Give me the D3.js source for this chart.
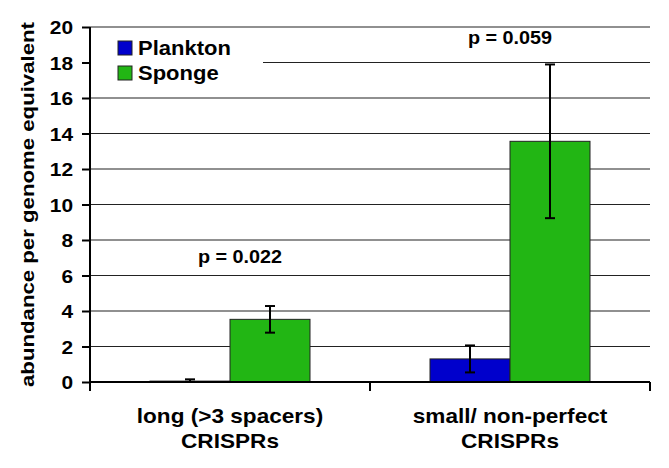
<!DOCTYPE html>
<html lang="en">
<head>
    <meta charset="utf-8">
    <title>CRISPR abundance</title>
    <script src="https://d3js.org/d3.v7.min.js"></script>
    <style>
        body { margin: 0; background: #fff; }
        text { font-family: Arial, "Liberation Sans", sans-serif; font-weight: bold; fill: #000; }
    </style>
</head>
<body>
    <svg id="chart" width="669" height="468"></svg>
    <script>
        // Data
        const categories = ["long (>3 spacers)|CRISPRs", "small/ non-perfect|CRISPRs"];
        const seriesNames = ["Plankton", "Sponge"];
        const plankton = [0.05, 1.30];
        const planktonErr = [0.1, 0.76];
        const sponge = [3.53, 13.56];
        const spongeErr = [0.75, 4.33];
        const pValues = ["p = 0.022", "p = 0.059"];
        const yTicks = [0, 2, 4, 6, 8, 10, 12, 14, 16, 18, 20];
        const colors = ["#0000cc", "#22b614"];

        const margin = { top: 27, right: 19, bottom: 86, left: 90 };
        const width = 669, height = 468;
        const svg = d3.select("#chart");

        // the original lettering is a bit wider than Arial, so stretch it
        function wideText(parent, px, py, str, size, sx, anchor) {
            return parent.append("text")
                .attr("transform", `translate(${px},${py}) scale(${sx},1)`)
                .attr("text-anchor", anchor || "middle")
                .style("font-size", size + "px")
                .text(str);
        }

        const x = d3.scaleBand()
            .domain(categories)
            .range([margin.left, width - margin.right]);
        const y = d3.scaleLinear()
            .domain([0, 20])
            .range([height - margin.bottom, margin.top]);
        // each bar is 80px inside a 280px band
        const inner = d3.scaleBand()
            .domain(seriesNames)
            .range([0, x.bandwidth()])
            .paddingInner(0)
            .paddingOuter(60 / 80);

        // gridlines
        svg.append("g")
            .selectAll("line")
            .data(yTicks.filter(d => d > 0))
            .join("line")
            .attr("x1", margin.left).attr("x2", width - margin.right)
            .attr("y1", d => y(d)).attr("y2", d => y(d))
            .attr("stroke", "#222").attr("stroke-width", 1.2);

        // legend background hides part of the grid
        const legend = svg.append("g");
        legend.append("rect")
            .attr("x", margin.left + 1).attr("y", 33)
            .attr("width", 172).attr("height", 55)
            .attr("fill", "#fff");

        const data = categories.map((c, i) => [
            { cat: c, s: "Plankton", v: plankton[i], e: planktonErr[i] },
            { cat: c, s: "Sponge", v: sponge[i], e: spongeErr[i] }
        ]).flat();

        // bars
        svg.append("g")
            .selectAll("rect")
            .data(data)
            .join("rect")
            .attr("x", d => x(d.cat) + inner(d.s))
            .attr("y", d => y(d.v))
            .attr("width", inner.bandwidth())
            .attr("height", d => y(0) - y(d.v))
            .attr("fill", d => colors[seriesNames.indexOf(d.s)])
            .attr("stroke", "#222").attr("stroke-width", 1);

        // error bars
        const eb = svg.append("g").attr("stroke", "#000").attr("stroke-width", 2);
        data.forEach(d => {
            const cx = x(d.cat) + inner(d.s) + inner.bandwidth() / 2;
            const hi = y(d.v + d.e), lo = y(Math.max(0, d.v - d.e));
            eb.append("line").attr("x1", cx).attr("x2", cx).attr("y1", hi).attr("y2", lo);
            eb.append("line").attr("x1", cx - 5).attr("x2", cx + 5).attr("y1", hi).attr("y2", hi);
            eb.append("line").attr("x1", cx - 5).attr("x2", cx + 5).attr("y1", lo).attr("y2", lo);
        });

        // y axis
        const tickSx = 1.1;
        const yAxis = svg.append("g")
            .attr("transform", `translate(${margin.left},0)`)
            .call(d3.axisLeft(y).tickValues(yTicks).tickSize(8).tickPadding(9));
        yAxis.select(".domain").remove();
        yAxis.selectAll(".tick line").attr("stroke", "#000").attr("stroke-width", 2);
        yAxis.selectAll("text")
            .style("font-size", "19px")
            .attr("dy", "0.36em")
            .attr("x", -17 / tickSx)
            .attr("transform", `scale(${tickSx},1)`);
        svg.append("line")
            .attr("x1", margin.left).attr("x2", margin.left)
            .attr("y1", y(20)).attr("y2", y(0) + 9)
            .attr("stroke", "#000").attr("stroke-width", 2);

        // x axis
        svg.append("line")
            .attr("x1", margin.left).attr("x2", width - margin.right)
            .attr("y1", y(0)).attr("y2", y(0))
            .attr("stroke", "#000").attr("stroke-width", 2);
        const xBounds = categories.map(c => x(c)).concat([x(categories[categories.length - 1]) + x.bandwidth()]);
        svg.append("g")
            .selectAll("line")
            .data(xBounds)
            .join("line")
            .attr("x1", d => d).attr("x2", d => d)
            .attr("y1", y(0)).attr("y2", y(0) + 9)
            .attr("stroke", "#000").attr("stroke-width", 2);

        // category labels
        const catG = svg.append("g");
        categories.forEach(c => {
            c.split("|").forEach((line, k) => {
                wideText(catG, x(c) + x.bandwidth() / 2, 423 + k * 25, line, 20, 1.13);
            });
        });

        // p values
        const pG = svg.append("g");
        pValues.forEach((p, i) => {
            const cx = x(categories[i]) + x.bandwidth() / 2 + (i === 0 ? 10 : 0);
            wideText(pG, cx, i === 0 ? 263 : 44, p, 18, 1.1);
        });

        // y title
        svg.append("text")
            .attr("transform", `translate(34,${(y(0) + y(20)) / 2}) rotate(-90) scale(1.2,1)`)
            .attr("text-anchor", "middle")
            .style("font-size", "18.5px")
            .text("abundance per genome equivalent");

        // legend entries
        seriesNames.forEach((s, i) => {
            legend.append("rect")
                .attr("x", 118).attr("y", 41 + i * 25)
                .attr("width", 14).attr("height", 14)
                .attr("fill", colors[i])
                .attr("stroke", "#222").attr("stroke-width", 1);
            wideText(legend, 138, 55 + i * 25, s, 20, 1.1, "start");
        });
    </script>
</body>
</html>
